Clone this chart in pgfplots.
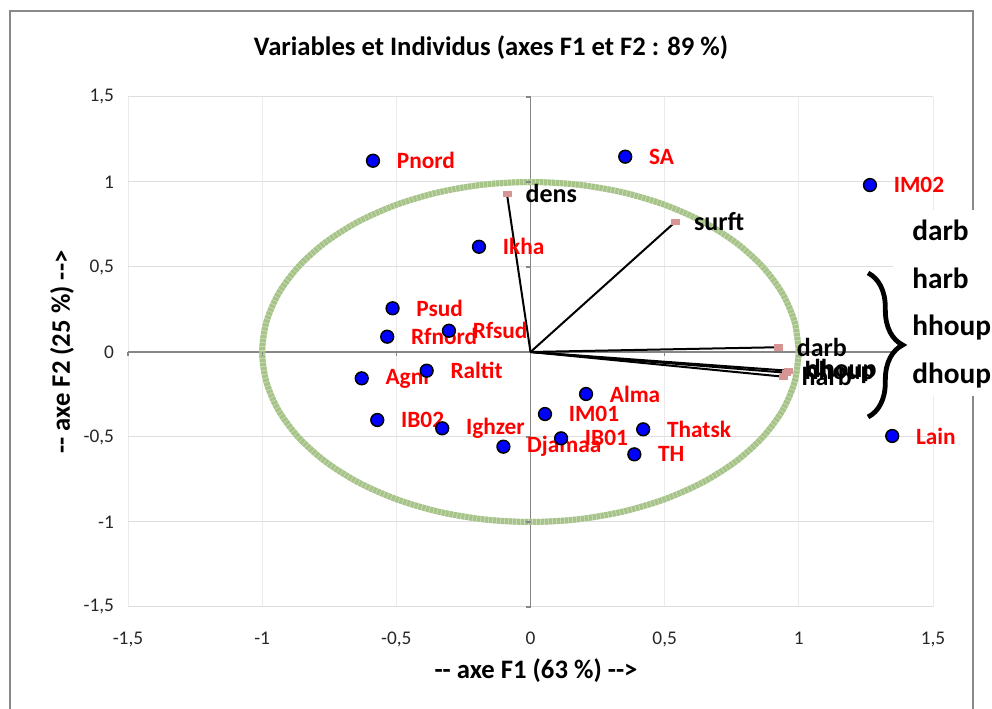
\documentclass[border=0pt]{standalone}
\usepackage{fontspec}
\setmainfont{Carlito}
\usepackage{pgfplots}
\usepackage{pgfplotstable}
\pgfplotsset{compat=1.18}
\usetikzlibrary{decorations.pathreplacing}

\definecolor{ptblue}{RGB}{0,0,255}
\definecolor{circdark}{RGB}{166,196,136}
\definecolor{circlight}{RGB}{204,219,188}
\definecolor{varpink}{RGB}{214,148,148}
\definecolor{framegray}{RGB}{137,137,137}
\definecolor{axgray}{RGB}{134,134,134}

% individus
\pgfplotstableread{
x y name
-0.587 1.125 Pnord
0.353 1.149 SA
1.265 0.982 IM02
-0.192 0.619 Ikha
-0.514 0.257 Psud
-0.534 0.090 Rfnord
-0.304 0.125 Rfsud
-0.629 -0.155 Agni
-0.387 -0.110 Raltit
-0.571 -0.400 IB02
-0.329 -0.449 Ighzer
-0.101 -0.557 Djamaa
0.054 -0.365 IM01
0.114 -0.508 IB01
0.207 -0.247 Alma
0.420 -0.455 Thatsk
0.387 -0.602 TH
1.348 -0.494 Lain
}\indiv

% variables
\pgfplotstableread{
x y name
-0.088 0.932 dens
0.540 0.766 surft
0.923 0.028 darb
0.960 -0.110 dhoup
0.952 -0.122 hhoup
0.941 -0.145 harb
}\vars

\newcommand{\lblfont}{\fontsize{17.5}{20}\selectfont\bfseries}
\newcommand{\varfont}{\fontsize{19.5}{22}\selectfont\bfseries}

\begin{document}
\begin{tikzpicture}
% cadre du graphique
\draw[framegray, line width=0.8pt] (7.5pt,-2pt) -- (7.5pt,523.5pt) -- (729.75pt,523.5pt) -- (729.75pt,-2pt);

\begin{axis}[
  at={(96pt,76.5pt)}, anchor=south west,
  width=603.75pt, height=382.5pt, scale only axis,
  xmin=-1.5, xmax=1.5, ymin=-1.5, ymax=1.5,
  xtick={-1.5,-1,...,1.5}, ytick={-1.5,-1,...,1.5},
  axis line style={draw=none},
  major tick length=0pt,
  grid=major,
  x grid style={black!8, line width=0.75pt},
  y grid style={black!13, line width=0.75pt},
  /pgf/number format/use comma,
  /pgf/number format/assume math mode=true,
  ticklabel style={font=\fontsize{14.5}{17}\selectfont, text=black!85},
  xticklabel style={yshift=-15pt},
  yticklabel style={xshift=-7pt},
  clip=false,
]
% axes passant par zero
\addplot[axgray, line width=0.9pt] coordinates {(-1.5,0) (1.5,0)};
\addplot[axgray, line width=0.9pt] coordinates {(0,-1.5) (0,1.5)};
\addplot[only marks, mark=|, mark size=1.6pt, mark options={axgray, line width=0.8pt, yshift=-1.6pt}]
  coordinates {(-1.5,0)(-1,0)(-0.5,0)(0.5,0)(1,0)(1.5,0)};
\addplot[only marks, mark=-, mark size=1.6pt, mark options={axgray, line width=0.8pt, xshift=-1.6pt}]
  coordinates {(0,-1.5)(0,-1)(0,-0.5)(0,0.5)(0,1)(0,1.5)};

% cercle des correlations
\addplot[circlight, line width=4.5pt, smooth] coordinates {
 (1,0)(0.9848,0.1736)(0.9397,0.3420)(0.8660,0.5)(0.7660,0.6428)(0.6428,0.7660)
 (0.5,0.8660)(0.3420,0.9397)(0.1736,0.9848)(0,1)(-0.1736,0.9848)(-0.3420,0.9397)
 (-0.5,0.8660)(-0.6428,0.7660)(-0.7660,0.6428)(-0.8660,0.5)(-0.9397,0.3420)(-0.9848,0.1736)
 (-1,0)(-0.9848,-0.1736)(-0.9397,-0.3420)(-0.8660,-0.5)(-0.7660,-0.6428)(-0.6428,-0.7660)
 (-0.5,-0.8660)(-0.3420,-0.9397)(-0.1736,-0.9848)(0,-1)(0.1736,-0.9848)(0.3420,-0.9397)
 (0.5,-0.8660)(0.6428,-0.7660)(0.7660,-0.6428)(0.8660,-0.5)(0.9397,-0.3420)(0.9848,-0.1736)(1,0)};
\addplot[circdark, line width=4.5pt, smooth, dash pattern=on 2.3pt off 0.7pt] coordinates {
 (1,0)(0.9848,0.1736)(0.9397,0.3420)(0.8660,0.5)(0.7660,0.6428)(0.6428,0.7660)
 (0.5,0.8660)(0.3420,0.9397)(0.1736,0.9848)(0,1)(-0.1736,0.9848)(-0.3420,0.9397)
 (-0.5,0.8660)(-0.6428,0.7660)(-0.7660,0.6428)(-0.8660,0.5)(-0.9397,0.3420)(-0.9848,0.1736)
 (-1,0)(-0.9848,-0.1736)(-0.9397,-0.3420)(-0.8660,-0.5)(-0.7660,-0.6428)(-0.6428,-0.7660)
 (-0.5,-0.8660)(-0.3420,-0.9397)(-0.1736,-0.9848)(0,-1)(0.1736,-0.9848)(0.3420,-0.9397)
 (0.5,-0.8660)(0.6428,-0.7660)(0.7660,-0.6428)(0.8660,-0.5)(0.9397,-0.3420)(0.9848,-0.1736)(1,0)};

% vecteurs des variables
\addplot[black, line width=1.5pt] coordinates {(0,0) (-0.088,0.932)};
\addplot[black, line width=1.5pt] coordinates {(0,0) (0.540,0.766)};
\addplot[black, line width=1.5pt] coordinates {(0,0) (0.923,0.028)};
\addplot[black, line width=1.5pt] coordinates {(0,0) (0.960,-0.110)};
\addplot[black, line width=1.5pt] coordinates {(0,0) (0.952,-0.122)};
\addplot[black, line width=1.5pt] coordinates {(0,0) (0.941,-0.145)};
\addplot[only marks, mark=square*, mark size=1.9pt,
  mark options={fill=varpink, draw=varpink, xscale=1.6},
  nodes near coords, point meta=explicit symbolic,
  every node near coord/.append style={anchor=west, xshift=10.5pt, text=black, font=\varfont}]
  table[x=x, y=y, meta=name] {\vars};

% individus
\addplot[only marks, mark=*, mark size=4.8pt,
  mark options={fill=ptblue, draw=black, line width=1.1pt},
  nodes near coords, point meta=explicit symbolic,
  every node near coord/.append style={anchor=west, xshift=14pt, text=red, font=\lblfont}]
  table[x=x, y=y, meta=name] {\indiv};
\end{axis}

% encadre de droite
\fill[white] (669.75pt,234.75pt) rectangle (744pt,374.25pt);
\draw[black, line width=3.6pt, decorate, decoration={brace, amplitude=26pt}]
  (651pt,327pt) -- (651pt,219pt);
\begin{scope}[every node/.style={anchor=base west, inner sep=0pt, font=\fontsize{22}{25}\selectfont\bfseries}]
\node at (684pt,351.5pt) {darb};
\node at (684pt,315.5pt) {harb};
\node at (684pt,280.25pt) {hhoup};
\node at (684pt,244.25pt) {dhoup};
\end{scope}

% titres
\node[font=\fontsize{20}{23}\selectfont\bfseries] at (368.25pt,495.75pt)
  {Variables et Individus (axes F1 et F2 : 89 \%)};
\node[font=\fontsize{20}{23}\selectfont\bfseries] at (402pt,28.5pt)
  {-{}- axe F1 (63 \%) -{}->};
\node[font=\fontsize{20}{23}\selectfont\bfseries, rotate=90] at (46.5pt,267.75pt)
  {-{}- axe F2 (25 \%) -{}->};

\pgfresetboundingbox
\path[use as bounding box] (0,0) rectangle (744pt,531.75pt);
\end{tikzpicture}
\end{document}
